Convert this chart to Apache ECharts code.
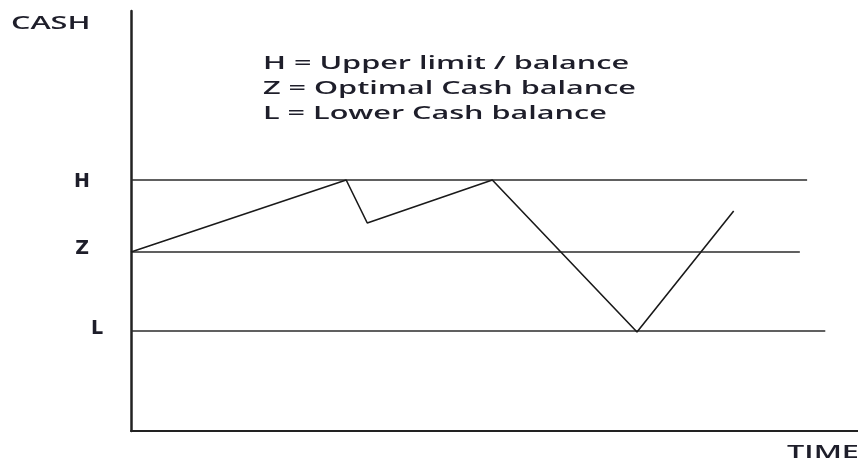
<!DOCTYPE html>
<html>
<head>
<meta charset="utf-8">
<script src="https://cdn.jsdelivr.net/npm/echarts@6/dist/echarts.min.js"></script>
<style>
  html, body { margin: 0; padding: 0; background: #fff; }
  #cash-chart { width: 858px; height: 459px; }
</style>
</head>
<body>
<div id="cash-chart"></div>
<script>
// levels (y in chart units, 0 = time axis)
const levelNames = ['H', 'Z', 'L'];
const levelValues = [25.1, 17.9, 10.0];
const levelEnds = [93.0, 92.0, 95.5];   // where each level line stops on the time axis

// cash balance path
const pathTime = [0, 29.6, 32.5, 49.7, 69.6, 82.9];
const pathCash = [17.9, 25.1, 20.8, 25.1, 9.9, 22.0];

const legendLines = [
  'H = Upper limit / balance',
  'Z = Optimal Cash balance',
  'L = Lower Cash balance'
];

const textColor = '#1e1e2a';
const fontFam = '"Open Sans", sans-serif';
const textFont = '600 18px ' + fontFam;
const stretch = 1.7;

const chart = echarts.init(document.getElementById('cash-chart'));

// label tweaks per level (distance from axis, vertical nudge)
const labelDist = [41, 42, 28];
const labelNudge = [2, -3, -2];

const levelSeries = levelNames.map(function (name, i) {
  return {
    name: name,
    type: 'line',
    data: [
      {
        value: [0, levelValues[i]],
        symbol: 'circle',
        symbolSize: 0,
        label: {
          show: true,
          position: 'left',
          distance: labelDist[i],
          offset: [0, labelNudge[i]],
          formatter: name,
          color: textColor,
          fontFamily: '"DejaVu Sans", sans-serif',
          fontWeight: 'bold',
          fontSize: 19
        }
      },
      { value: [levelEnds[i], levelValues[i]], symbolSize: 0 }
    ],
    showSymbol: true,
    symbol: 'circle',
    symbolSize: 0,
    silent: true,
    lineStyle: { color: '#2b2b2b', width: 1.5 },
    emphasis: { disabled: true }
  };
});

const legendGraphics = legendLines.map(function (t, i) {
  return {
    type: 'text',
    x: 263,
    y: 64 + i * 25,
    scaleX: stretch,
    style: { text: t, fill: textColor, font: textFont, textVerticalAlign: 'middle' }
  };
});

chart.setOption({
  animation: false,
  grid: { left: 131, right: 0, top: 11, bottom: 28 },
  xAxis: {
    type: 'value',
    min: 0,
    max: 100,
    axisLine: { show: true, lineStyle: { color: '#222', width: 2 } },
    axisTick: { show: false },
    axisLabel: { show: false },
    splitLine: { show: false }
  },
  yAxis: {
    type: 'value',
    min: 0,
    max: 42,
    axisLine: { show: true, lineStyle: { color: '#222', width: 2.5 } },
    axisTick: { show: false },
    axisLabel: { show: false },
    splitLine: { show: false }
  },
  graphic: [
    {
      type: 'text',
      x: 11,
      y: 24,
      scaleX: stretch,
      style: { text: 'CASH', fill: textColor, font: textFont, textVerticalAlign: 'middle' }
    },
    {
      type: 'text',
      x: 787,
      y: 453,
      scaleX: stretch,
      style: { text: 'TIME', fill: textColor, font: textFont, textVerticalAlign: 'middle' }
    }
  ].concat(legendGraphics),
  series: levelSeries.concat([{
    name: 'Cash',
    type: 'line',
    data: pathTime.map(function (t, i) { return [t, pathCash[i]]; }),
    showSymbol: false,
    silent: true,
    lineStyle: { color: '#1a1a1a', width: 1.6 },
    emphasis: { disabled: true }
  }])
});
</script>
</body>
</html>
